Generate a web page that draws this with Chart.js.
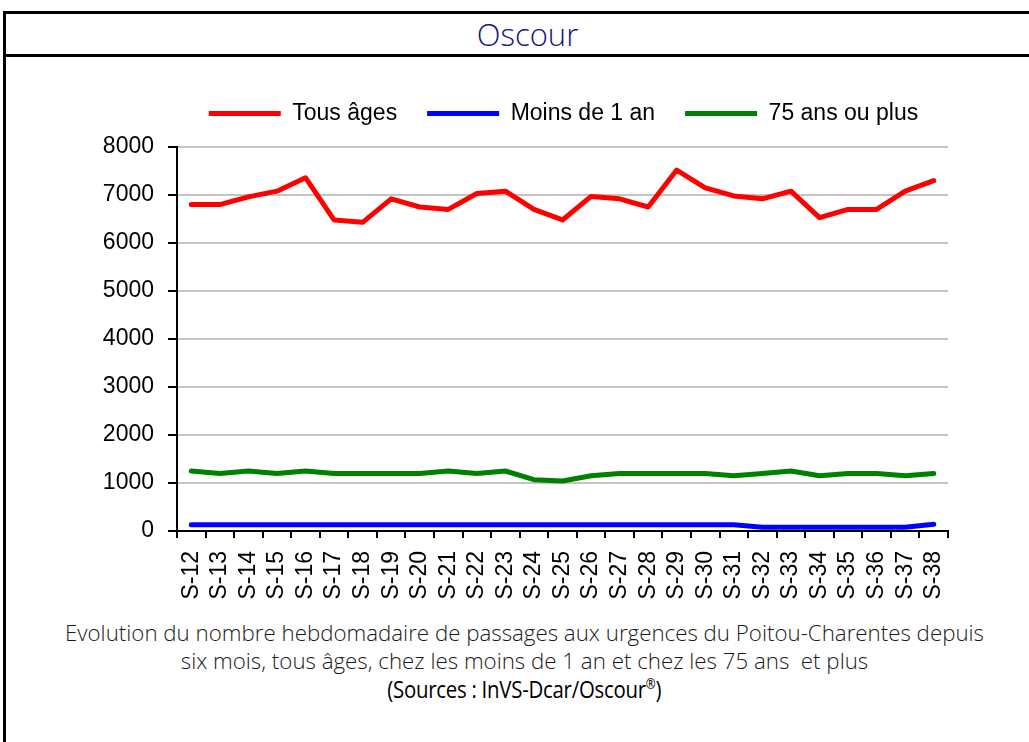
<!DOCTYPE html>
<html lang="fr">
<head>
<meta charset="utf-8">
<title>Oscour</title>
<script src="https://cdn.jsdelivr.net/npm/chart.js@4/dist/chart.umd.min.js"></script>
<style>
  html, body { margin: 0; padding: 0; background: #fff; overflow: hidden; }
  body { width: 1029px; height: 742px; position: relative; }
  #frame { position: absolute; left: 3px; top: 11px; width: 1060px; height: 780px; border: 3px solid #000; box-sizing: border-box; }
  #title { position: absolute; left: 3px; top: 11px; width: 1060px; height: 46px; border: 3px solid #000; box-sizing: border-box;
           font-family: "Open Sans", sans-serif; font-weight: 300; font-size: 31px; color: #16167e; }
  #title span { position: absolute; left: 0; width: 1043px; text-align: center; top: -1px; }
  #box { position: absolute; left: 98px; top: 58px; width: 931px; height: 552px; }
  #caption { position: absolute; left: 0; top: 619px; width: 1049px; text-align: center;
             font-family: "Open Sans", sans-serif; font-weight: 300; font-size: 22.3px; color: #1a1a1a; }
  #caption div { height: 28px; line-height: 28px; white-space: nowrap; }
  #caption .src span { display: inline-block; transform: scaleX(0.85); transform-origin: 50% 50%;
                       font-weight: 400; color: #000; font-size: 24px; letter-spacing: -0.3px; }
  #caption sup { font-size: 14px; line-height: 0; }
</style>
</head>
<body>
<div id="frame"></div>
<div id="title"><span>Oscour</span></div>
<div id="box"><canvas id="chart"></canvas></div>
<div id="caption">
  <div>Evolution du nombre hebdomadaire de passages aux urgences du Poitou-Charentes depuis</div>
  <div>six mois, tous âges, chez les moins de 1 an et chez les 75 ans&nbsp; et plus</div>
  <div class="src"><span>(Sources : InVS-Dcar/Oscour<sup>®</sup>)</span></div>
</div>
<script>
// Weeks on the x axis
var weeks = ['S-12', 'S-13', 'S-14', 'S-15', 'S-16', 'S-17', 'S-18', 'S-19', 'S-20', 'S-21',
             'S-22', 'S-23', 'S-24', 'S-25', 'S-26', 'S-27', 'S-28', 'S-29', 'S-30', 'S-31',
             'S-32', 'S-33', 'S-34', 'S-35', 'S-36', 'S-37', 'S-38'];

// Weekly emergency visits
var tousAges = [6800, 6800, 6960, 7080, 7360, 6480, 6430, 6920, 6750, 6700,
                7030, 7080, 6700, 6480, 6970, 6920, 6750, 7520, 7150, 6980,
                6920, 7080, 6530, 6700, 6700, 7080, 7300];
var moinsUnAn = [130, 130, 130, 130, 130, 130, 130, 130, 130, 130,
                 130, 130, 130, 130, 130, 130, 130, 130, 130, 130,
                 80, 80, 80, 80, 80, 80, 140];
var plus75 = [1250, 1200, 1250, 1200, 1250, 1200, 1200, 1200, 1200, 1250,
              1200, 1250, 1070, 1040, 1150, 1200, 1200, 1200, 1200, 1150,
              1200, 1250, 1150, 1200, 1200, 1150, 1200];

var yMax = 8000;
var yStep = 1000;

var font = { family: '"Liberation Sans", Arial, sans-serif', size: 23 };

// push the plot area a bit lower under the legend
var legendSpace = {
    id: 'legendSpace',
    beforeLayout: function(chart) {
        var lg = chart.legend;
        if (lg && !lg._patched) {
            var fit = lg.fit;
            lg.fit = function() {
                fit.call(this);
                this.height += 12;
            };
            lg._patched = true;
        }
    }
};

function lineSet(label, data, color, width) {
    return {
        label: label,
        data: data,
        borderColor: color,
        backgroundColor: color,
        borderWidth: width,
        pointRadius: 0,
        pointHoverRadius: 0,
        tension: 0,
        borderCapStyle: 'round',
        borderJoinStyle: 'round',
        yAxisID: 'y'
    };
}

var ctx = document.getElementById('chart').getContext('2d');
var chart = new Chart(ctx, {
    type: 'line',
    data: {
        labels: weeks,
        datasets: [
            lineSet('Tous âges', tousAges, '#ff0000', 5),
            lineSet('Moins de 1 an', moinsUnAn, '#0000ff', 5),
            lineSet('75 ans ou plus', plus75, '#008000', 5)
        ]
    },
    options: {
        responsive: true,
        maintainAspectRatio: false,
        animation: false,
        layout: { padding: { top: 14, left: 0, right: 0, bottom: 0 } },
        plugins: {
            legend: {
                position: 'top',
                labels: {
                    usePointStyle: true,
                    pointStyle: 'line',
                    pointStyleWidth: 72,
                    padding: 30,
                    color: '#000',
                    font: font
                }
            },
            tooltip: { enabled: false }
        },
        scales: {
            x: {
                offset: true,
                grid: {
                    offset: true,
                    drawOnChartArea: false,
                    color: '#000',
                    tickColor: '#000',
                    tickLength: 7,
                    lineWidth: 2
                },
                border: { color: '#000', width: 2 },
                ticks: {
                    color: '#000',
                    font: font,
                    minRotation: 90,
                    maxRotation: 90,
                    autoSkip: false,
                    padding: 13
                },
                afterFit: function(scale) { scale.height = 79; }
            },
            y: {
                min: 0,
                max: yMax,
                ticks: {
                    stepSize: yStep,
                    color: '#000',
                    font: font,
                    padding: 14,
                    callback: function(v) { return String(v); }
                },
                grid: { color: '#c4c4c4', lineWidth: 2, tickColor: '#000', tickLength: 9 },
                border: { color: '#000', width: 2 },
                afterFit: function(scale) { scale.width = 79; }
            },
            yRight: {
                position: 'right',
                display: true,
                grid: { display: false },
                border: { display: false },
                ticks: { display: false },
                afterFit: function(scale) { scale.width = 81; }
            }
        }
    },
    plugins: [legendSpace]
});
</script>
</body>
</html>
